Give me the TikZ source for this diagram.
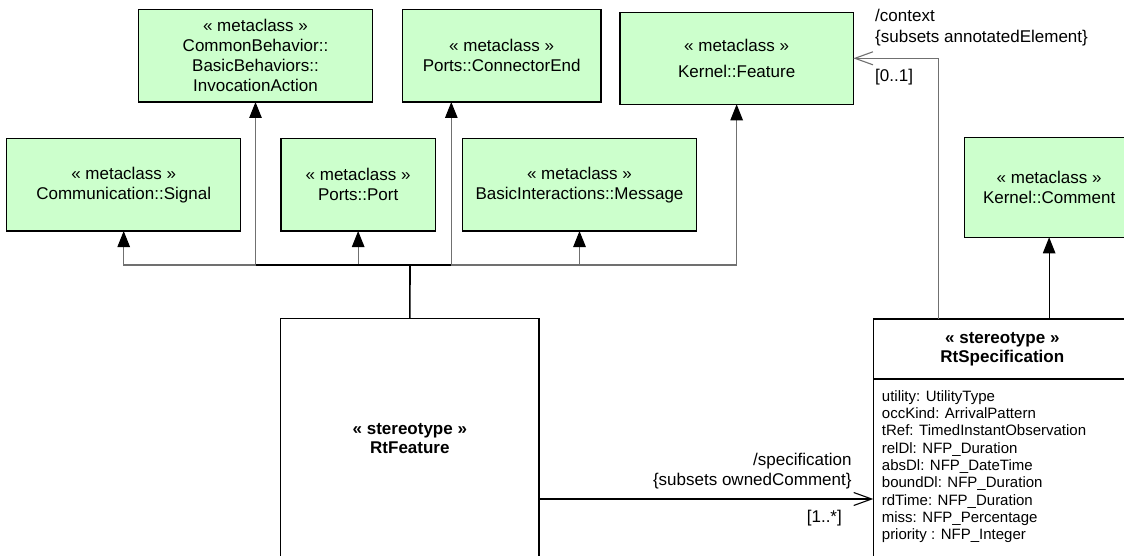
\documentclass[tikz,border=0pt]{standalone}
\usepackage{fontspec}
\setmainfont{Liberation Sans}
\usetikzlibrary{arrows.meta}
\definecolor{clsgreen}{RGB}{204,255,204}
\definecolor{lgray}{RGB}{112,112,112}
\begin{document}
\begin{tikzpicture}[x=1pt,y=-1pt,
 meta/.style={draw=black,line width=1.1pt,fill=clsgreen,align=center,inner sep=0pt,outer sep=0pt,font=\fontsize{17}{20}\selectfont},
 stereo/.style={draw=black,line width=1.1pt,fill=white,inner sep=0pt,outer sep=0pt},
 lbl/.style={inner sep=0pt,font=\fontsize{17}{20.5}\selectfont},
 attr/.style={inner sep=0pt,anchor=base west,font=\fontsize{15}{17}\selectfont},
 gen/.style={draw=lgray,line width=1.1pt,-{Triangle[width=12.5pt,length=16pt,color=black]}},
 genblk/.style={draw=black,line width=1.1pt,-{Triangle[width=12.5pt,length=16pt,color=black]}},
 assoc/.style={line width=1.1pt,-{Straight Barb[length=18pt,width=13pt]}},
 trunk/.style={draw=black,line width=1.6pt}]
\useasboundingbox (0,0) rectangle (1124,556);
\fill[white] (0,0) rectangle (1124,556);
\clip (0,0) rectangle (1124,556);

\node[meta,minimum width=233.6pt,minimum height=92.3pt] (inv) at (255.5,55.85) {« metaclass »\\CommonBehavior::\\BasicBehaviors::\\InvocationAction};
\node[meta,minimum width=198.7pt,minimum height=92.3pt] (conn) at (501.65,55.85) {« metaclass »\\Ports::ConnectorEnd};
\node[meta,minimum width=233.3pt,minimum height=92pt,font=\fontsize{17}{26.7}\selectfont] (feat) at (736.65,58.3) {« metaclass »\\Kernel::Feature};
\node[meta,minimum width=234pt,minimum height=92.7pt] (sig) at (123.7,184.65) {« metaclass »\\Communication::Signal};
\node[meta,minimum width=154.3pt,minimum height=92.7pt] (port) at (358.15,184.65) {« metaclass »\\Ports::Port};
\node[meta,minimum width=233.6pt,minimum height=92.7pt] (msg) at (579.5,184.65) {« metaclass »\\BasicInteractions::Message};
\node[meta,minimum width=169.7pt,minimum height=99.6pt] (comm) at (1049.15,187.5) {« metaclass »\\Kernel::Comment};

\node[stereo,minimum width=258.3pt,minimum height=239.3pt,align=center,font=\fontsize{17}{19}\selectfont\bfseries] (rtf) at (409.85,438.35) {« stereotype »\\RtFeature};

\node[stereo,minimum width=257.7pt,minimum height=261pt] (rts) at (1002.15,449.5) {};
\coordinate (divy) at (0,379);
\draw[line width=1.1pt] (rts.west |- divy) -- (rts.east |- divy);
\node[inner sep=0pt,align=center,font=\fontsize{17}{19.7}\selectfont\bfseries] (rtshead) at (1002.3,349.2) {« stereotype »\\RtSpecification};
\foreach \t [count=\i from 0] in {utility: UtilityType, occKind: ArrivalPattern, tRef: TimedInstantObservation, relDl: NFP\_Duration, absDl: NFP\_DateTime, boundDl: NFP\_Duration, rdTime: NFP\_Duration, miss: NFP\_Percentage, priority : NFP\_Integer}
  \node[attr] (att\i) at (881.7,{401.2+\i*17.33}) {\t};

\coordinate (bus) at (410,265);
\coordinate (cx) at (451.3,265);
\draw[gen] (bus) -| (sig.south);
\draw[gen] (bus) -| (inv.south);
\draw[gen] (bus) -| (port.south);
\draw[gen] (bus) -- (cx) -- (cx |- conn.south);
\draw[gen] (bus) -| (msg.south);
\draw[gen] (bus) -| (feat.south);
\draw[trunk] (inv.south |- bus) -- (cx);
\draw[trunk] (rtf.north) -- (bus);
\draw[genblk] (rts.north -| comm.south) -- (comm.south);

\coordinate (ctxx) at (938.7,0);
\draw[assoc,draw=lgray] (rts.north -| ctxx) |- (feat.east);
\coordinate (specy) at (0,499);
\draw[assoc,draw=black] (rtf.east |- specy) -- (rts.west |- specy);

\node[lbl,anchor=west,align=left] (ctxlbl) at (875,27.5) {/context\\\{subsets annotatedElement\}};
\node[lbl,anchor=west] (ctxm) at (875,77.3) {[0..1]};
\node[lbl,anchor=east,align=right] (speclbl) at (851.7,471.35) {/specification\\\{subsets ownedComment\}};
\node[lbl,anchor=east] (specm) at (842,518.3) {[1..*]};
\end{tikzpicture}
\end{document}
